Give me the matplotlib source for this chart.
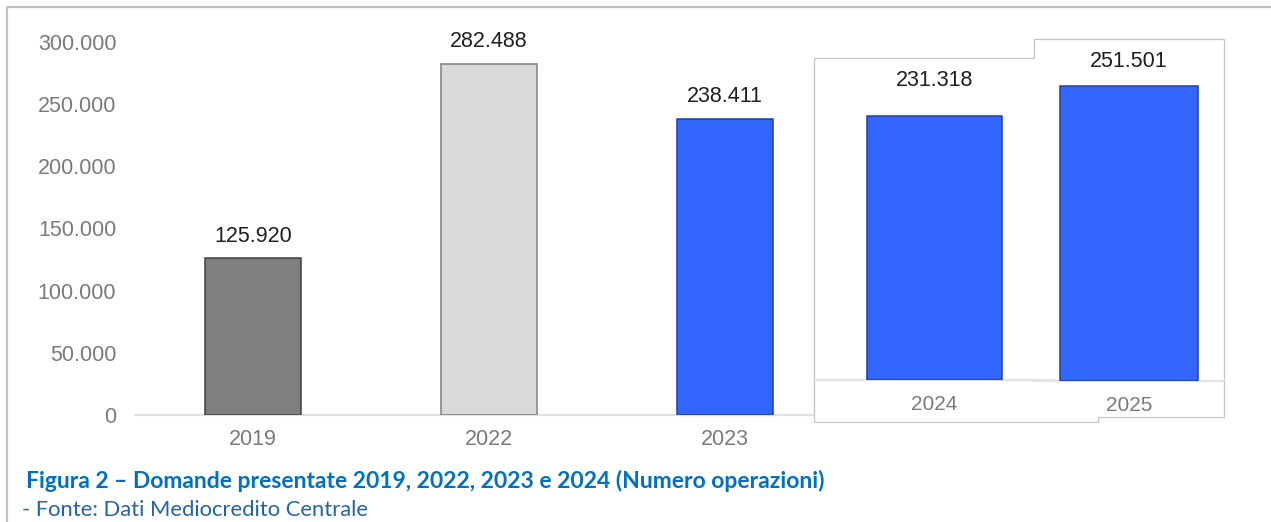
import matplotlib
matplotlib.use("Agg")
import matplotlib.pyplot as plt
from matplotlib.patches import Polygon

# Domande presentate (numero operazioni)
years_main = ["2019", "2022", "2023"]
values_main = [125920, 282488, 238411]
colors_main = ["#7f7f7f", "#d9d9d9", "#3366ff"]
edges_main = ["#404040", "#7f7f7f", "#23409e"]

year_2024 = ["2024"]
value_2024 = [231318]
year_2025 = ["2025"]
value_2025 = [251501]

y_ticks = [0, 50000, 100000, 150000, 200000, 250000, 300000]

caption = "Figura 2 – Domande presentate 2019, 2022, 2023 e 2024 (Numero operazioni)"
source = "- Fonte: Dati Mediocredito Centrale"

W, H, DPI = 1271, 522, 100
fig = plt.figure(figsize=(W / DPI, H / DPI), dpi=DPI)
fig.patch.set_facecolor("white")

FONT = "Liberation Sans"
TICK_COLOR = "#7a7a7a"
LABEL_COLOR = "#1e1e1e"
BASE_COLOR = "#e2e2e2"


def it(v):
    return f"{v:,}".replace(",", ".")


def px_axes(x0, y0, x1, y1, z):
    ax = fig.add_axes([x0 / W, 1 - y1 / H, (x1 - x0) / W, (y1 - y0) / H])
    ax.set_zorder(z)
    ax.patch.set_alpha(0)
    return ax


def style(ax):
    for s in ("top", "right", "left"):
        ax.spines[s].set_visible(False)
    ax.spines["bottom"].set_color(BASE_COLOR)
    ax.spines["bottom"].set_linewidth(1.6)
    ax.tick_params(length=0)


def value_labels(ax, xs, vals, offset):
    for x, v in zip(xs, vals):
        ax.annotate(it(v), (x, v), xytext=(0, offset), textcoords="offset points",
                    ha="center", va="bottom", fontsize=15.5, family=FONT,
                    color=LABEL_COLOR, annotation_clip=False)


# Main chart
ax = px_axes(135, 42, 1079, 415, 1)
style(ax)
xs = list(range(len(years_main)))
ax.bar(xs, values_main, width=0.407, color=colors_main, edgecolor=edges_main,
       linewidth=1.1, zorder=3)
ax.set_xlim(-0.5, 3.5)
ax.set_ylim(0, 300000)
ax.set_yticks(y_ticks)
ax.set_yticklabels([it(v) for v in y_ticks], family=FONT, fontsize=15.5, color=TICK_COLOR)
ax.set_xticks(xs)
ax.set_xticklabels(years_main, family=FONT, fontsize=15.5, color=TICK_COLOR)
ax.tick_params(axis="y", pad=13.5)
ax.tick_params(axis="x", pad=10)
value_labels(ax, xs, values_main, 8.5)

# Overlay: outer frame and the white panel holding the latest years
ov = fig.add_axes([0, 0, 1, 1])
ov.set_zorder(2)
ov.patch.set_alpha(0)
ov.set_xlim(0, W)
ov.set_ylim(H, 0)
ov.axis("off")
ov.plot([7, W], [6.5, 6.5], color="#c0c0c0", lw=1.6, solid_capstyle="butt")
ov.plot([7, 7], [6.5, H], color="#c0c0c0", lw=1.6, solid_capstyle="butt")
panel = [(814, 58), (1034, 58), (1034, 39), (1224, 39), (1224, 417),
         (1098, 417), (1098, 422), (814, 422)]
ov.add_patch(Polygon(panel, closed=True, facecolor="white", edgecolor="#c4c4c4", lw=0.9))

# 2024 panel
y_top_a = 380 - 280000 / value_2024[0] * (380 - 115.7)
axa = px_axes(814, y_top_a, 1055, 380, 3)
style(axa)
axa.bar([0], value_2024, width=0.56, color="#3366ff", edgecolor="#23409e", linewidth=1.1, zorder=3)
axa.set_xlim(-0.5, 0.5)
axa.set_ylim(0, 280000)
axa.set_yticks([])
axa.set_xticks([0])
axa.set_xticklabels(year_2024, family=FONT, fontsize=15, color=TICK_COLOR)
axa.tick_params(axis="x", pad=11)
value_labels(axa, [0], value_2024, 18)

# 2025 panel
y_top_b = 381 - 280000 / value_2025[0] * (381 - 85.7)
axb = px_axes(1034, y_top_b, 1224, 381, 3)
style(axb)
axb.bar([0], value_2025, width=0.73, color="#3366ff", edgecolor="#23409e", linewidth=1.1, zorder=3)
axb.set_xlim(-0.5, 0.5)
axb.set_ylim(0, 280000)
axb.set_yticks([])
axb.set_xticks([0])
axb.set_xticklabels(year_2025, family=FONT, fontsize=15, color=TICK_COLOR)
axb.tick_params(axis="x", pad=11)
value_labels(axb, [0], value_2025, 10)

# Caption and source
fig.text(26 / W, 1 - 481 / H, caption, family="Lato", fontweight="bold", fontsize=16.5,
         color="#0070c0", va="center", ha="left")
fig.text(22 / W, 1 - 510 / H, source, family="Lato", fontsize=15.8,
         color="#2463a8", va="center", ha="left")

fig.savefig("out.png", dpi=DPI, facecolor="white")
